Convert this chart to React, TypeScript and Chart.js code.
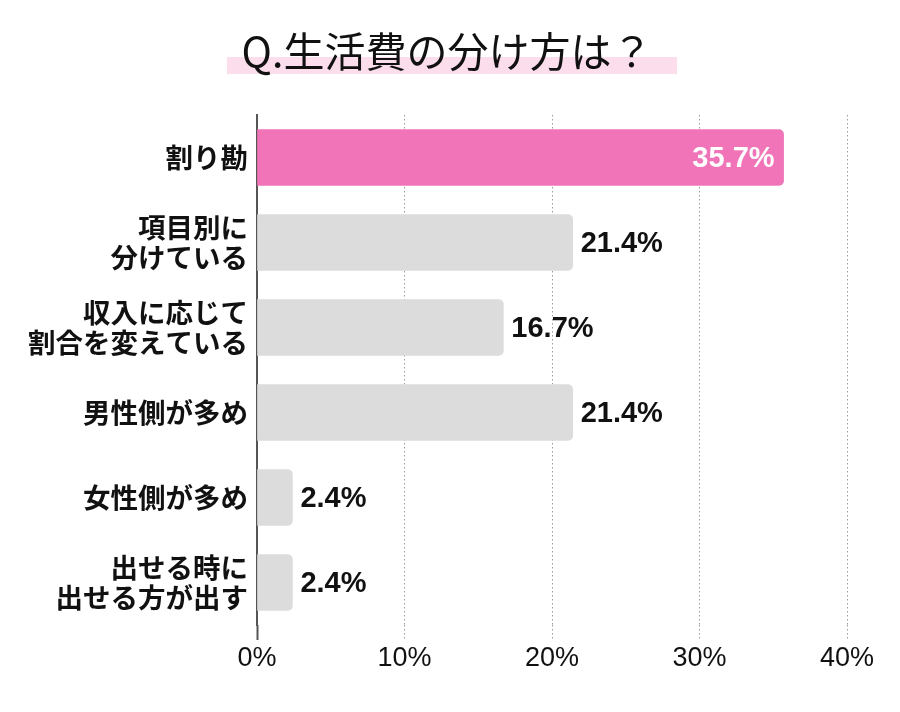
import React, { useEffect, useRef } from "react";
import { Chart, registerables } from "chart.js";

Chart.register(...registerables);

const title = "Q.生活費の分け方は？";
const categories: string[][] = [
  ["割り勘"],
  ["項目別に", "分けている"],
  ["収入に応じて", "割合を変えている"],
  ["男性側が多め"],
  ["女性側が多め"],
  ["出せる時に", "出せる方が出す"],
];
const values: number[] = [35.7, 21.4, 16.7, 21.4, 2.4, 2.4];
const xMin = 0;
const xMax = 40;
const xStep = 10;

const PINK = "#F074B7";
const GREY = "#DCDCDC";
const HIGHLIGHT = "#FCDDEC";
const LATIN = "'Liberation Sans', Arial, Helvetica, sans-serif";
const CJK = "'Noto Sans CJK JP', 'Noto Sans', sans-serif";

const titlePlugin = {
  id: "titlePlugin",
  beforeDraw(chart: any) {
    const ctx = chart.ctx;
    ctx.save();
    ctx.fillStyle = "#ffffff";
    ctx.fillRect(0, 0, chart.width, chart.height);
    ctx.fillStyle = HIGHLIGHT;
    ctx.fillRect(227, 57, 450, 17);
    ctx.fillStyle = "#111111";
    ctx.font = `400 41px ${CJK}`;
    ctx.textAlign = "center";
    ctx.textBaseline = "middle";
    ctx.fillText(title, 447, 51);
    ctx.restore();
  },
};

const valueLabelPlugin = {
  id: "valueLabelPlugin",
  afterDatasetsDraw(chart: any) {
    const ctx = chart.ctx;
    const meta = chart.getDatasetMeta(0);
    ctx.save();
    ctx.font = `bold 29px ${LATIN}`;
    ctx.textBaseline = "middle";
    meta.data.forEach((el: any, i: number) => {
      const text = values[i].toFixed(1) + "%";
      if (i === 0) {
        ctx.fillStyle = "#ffffff";
        ctx.textAlign = "right";
        ctx.fillText(text, el.x - 9, el.y + 1);
      } else {
        ctx.fillStyle = "#111111";
        ctx.textAlign = "left";
        ctx.fillText(text, el.x + 8, el.y + 1);
      }
    });
    ctx.restore();
  },
};

export default function App() {
  const canvasRef = useRef<HTMLCanvasElement | null>(null);

  useEffect(() => {
    document.body.style.margin = "0";
    const canvas = canvasRef.current;
    if (!canvas) return;
    const chart = new Chart(canvas, {
      type: "bar",
      data: {
        labels: categories,
        datasets: [
          {
            data: values,
            backgroundColor: values.map((_, i) => (i === 0 ? PINK : GREY)),
            borderWidth: 0,
            borderRadius: 5,
            borderSkipped: "start",
            barThickness: 56,
          },
        ],
      },
      options: {
        indexAxis: "y",
        responsive: false,
        animation: false,
        maintainAspectRatio: false,
        layout: { padding: { top: 115, right: 53, left: 0, bottom: 0 } },
        plugins: {
          legend: { display: false },
          tooltip: { enabled: false },
        },
        scales: {
          x: {
            min: xMin,
            max: xMax,
            afterFit(scale: any) {
              scale.height = 87;
            },
            ticks: {
              stepSize: xStep,
              padding: 2,
              color: "#111111",
              font: { family: LATIN, size: 27 },
              callback: (v: any) => v + "%",
            },
            grid: {
              color: (c: any) => (c.index === 0 ? "#555555" : "#9a9a9a"),
              lineWidth: 1,
              drawTicks: true,
              tickLength: 15,
              tickColor: (c: any) => (c.index === 0 ? "#555555" : "#9a9a9a"),
              tickWidth: (c: any) => (c.index === 0 ? 2 : 1),
              tickBorderDash: (c: any) => (c.index === 0 ? [] : [1.5, 2.5]),
            },
            border: { display: false, dash: [1.5, 2.5] },
          },
          y: {
            afterFit(scale: any) {
              scale.width = 257;
            },
            ticks: {
              padding: 1,
              color: "#111111",
              font: { family: CJK, size: 27.5, weight: "bold", lineHeight: 1.1 },
            },
            grid: { display: false },
            border: { display: true, color: "#555555", width: 2 },
          },
        },
      },
      plugins: [titlePlugin, valueLabelPlugin],
    });
    return () => chart.destroy();
  }, []);

  return (
    <div style={{ width: 900, height: 712 }}>
      <canvas ref={canvasRef} width={900} height={712} style={{ display: "block" }} />
    </div>
  );
}
